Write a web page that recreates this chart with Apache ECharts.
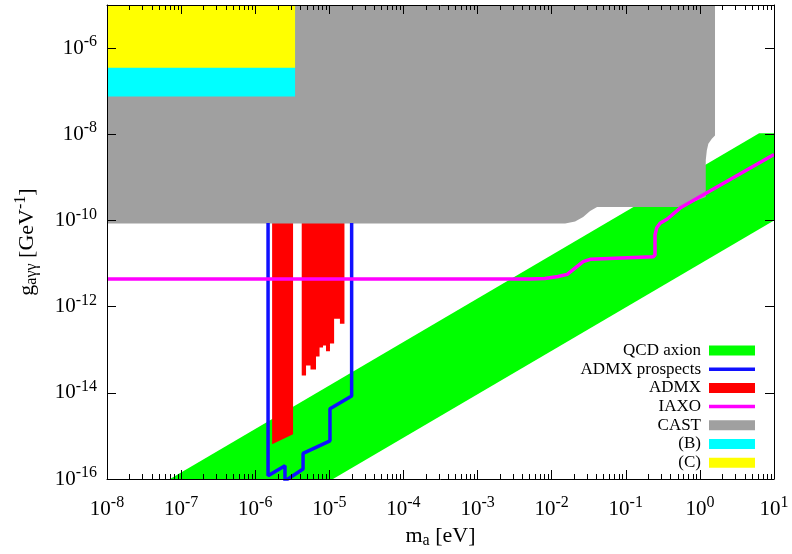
<!DOCTYPE html>
<html><head><meta charset="utf-8">
<script src="https://cdn.jsdelivr.net/npm/echarts@6/dist/echarts.min.js"></script>
<style>html,body{margin:0;padding:0;background:#fff}#c{width:792px;height:554px}</style>
</head><body><div id="c"></div>
<script>
// ---------- data (m_a [eV], g [GeV^-1]) ----------
const xTickExponents = [-8,-7,-6,-5,-4,-3,-2,-1,0,1];
const yTickExponents = [-16,-14,-12,-10,-8,-6];
const minorMultipliers = [2,3,4,5,6,7,8,9];

const qcdBand = [[7.08e-8,1e-16],[6.3,1.05e-8],[10,1.05e-8],[10,1e-10],[1.12e-5,1e-16]];
const castRegion = [[1e-8,1e-5],[1e-8,8.5e-11],[0.0152,8.5e-11],[0.0207,9.4e-11],[0.0266,1.2e-10],[0.033,1.65e-10],[0.041,2.05e-10],[0.54,2.05e-10],[1.2,3.5e-10],[1.2,2.5e-9],[1.24,4.2e-9],[1.30,6.05e-9],[1.45,7.9e-9],[1.6,9.4e-9],[1.6,1e-5]];
const regionB = [[1e-8,1e-5],[1e-8,7.5e-8],[3.45e-6,7.5e-8],[3.45e-6,1e-5]];
const regionC = [[1e-8,1e-5],[1e-8,3.5e-7],[3.45e-6,3.5e-7],[3.45e-6,1e-5]];
const admxLow = [[1.69e-6,1.2e-10],[1.69e-6,6.4e-16],[3.24e-6,1.1e-15],[3.24e-6,1.2e-10]];
const admxHigh = [[4.24e-6,1.2e-10],[4.24e-6,2.53e-14],[4.85e-6,2.53e-14],[4.85e-6,4.3e-14],[5.57e-6,4.3e-14],[5.57e-6,3.48e-14],[6.61e-6,3.48e-14],[6.61e-6,6.97e-14],[7.38e-6,6.97e-14],[7.38e-6,1.13e-13],[8.22e-6,1.13e-13],[8.22e-6,1.25e-13],[9.02e-6,1.25e-13],[9.02e-6,9.2e-14],[1.02e-5,9.2e-14],[1.02e-5,1.39e-13],[1.16e-5,1.39e-13],[1.16e-5,5.2e-13],[1.39e-5,5.2e-13],[1.39e-5,4.03e-13],[1.60e-5,4.03e-13],[1.60e-5,1.2e-10]];
const admxProspects = [[1.49e-6,8.7e-11],[1.49e-6,1.19e-16],[2.52e-6,2.03e-16],[2.52e-6,9e-17],[4.42e-6,1.70e-16],[4.42e-6,3.93e-16],[1.02e-5,7.67e-16],[1.02e-5,4.27e-15],[2.0e-5,8.4e-15],[2.0e-5,8.7e-11]];
const iaxo = [[1e-8,4.4e-12],[5.1e-3,4.4e-12],[8.1e-3,4.5e-12],[0.0122,5.0e-12],[0.0162,5.6e-12],[0.0266,1.11e-11],[0.033,1.25e-11],[0.233,1.43e-11],[0.248,1.58e-11],[0.248,4.6e-11],[0.262,6.8e-11],[0.29,8.6e-11],[0.363,1.08e-10],[0.54,1.94e-10],[10,3.4e-9]];

// ---------- helpers ----------
const FONT = 'Liberation Serif';
const X_MIN = 1e-8, X_MAX = 10, Y_MIN = 1e-16, Y_MAX = 1e-5;
function expLabel(v){ return '{b|10}{e|' + Math.round(Math.log10(v)) + '}'; }
const tickRich = {
  b:{fontFamily:FONT,fontSize:21,color:'#000'},
  e:{fontFamily:FONT,fontSize:16,color:'#000',padding:[0,0,12,0]}
};
function polySeries(name, pts, color){
  return {
    type:'custom', name:name, coordinateSystem:'cartesian2d', clip:true, silent:true,
    data:pts, itemStyle:{color:color},
    renderItem:function(params, api){
      if (params.dataIndex !== 0) return null;
      return {type:'polygon', shape:{points:pts.map(p=>api.coord(p))}, style:{fill:color, stroke:null}};
    }
  };
}
const minorTickData = [];
xTickExponents.slice(0,-1).forEach(e=>minorMultipliers.forEach(k=>minorTickData.push([k*Math.pow(10,e), Y_MIN])));

const LINE_ICON = 'path://M0,0 L46,0 L46,3.5 L0,3.5 Z';

const axisCommon = {
  axisLine:{show:true,onZero:false,lineStyle:{color:'#000',width:1}},
  axisTick:{show:true,inside:true,length:9,lineStyle:{color:'#000',width:1}},
  splitLine:{show:false}, z:10
};

const option = {
  animation:false,
  backgroundColor:'#fff',
  grid:{left:107,right:18,top:5,bottom:74,containLabel:false},
  xAxis:[
    Object.assign({}, axisCommon, {
      type:'log', logBase:10, min:X_MIN, max:X_MAX, splitNumber:9, position:'bottom',
      axisLabel:{interval:0, formatter:expLabel, rich:tickRich, margin:16},
      name:'{m|m}{s|a}{t| [eV]}', nameLocation:'middle', nameGap:44,
      nameTextStyle:{fontFamily:FONT,fontSize:22,color:'#000',rich:{
        m:{fontFamily:FONT,fontSize:22,color:'#000'},
        s:{fontFamily:FONT,fontSize:16,color:'#000',padding:[10,0,0,0]},
        t:{fontFamily:FONT,fontSize:22,color:'#000'}}}
    }),
    Object.assign({}, axisCommon, {
      type:'log', logBase:10, min:X_MIN, max:X_MAX, splitNumber:9, position:'top',
      axisLabel:{show:false}
    })
  ],
  yAxis:[
    Object.assign({}, axisCommon, {
      type:'log', logBase:100, min:Y_MIN, max:Y_MAX, splitNumber:6, position:'left',
      axisLabel:{formatter:expLabel, rich:tickRich, margin:10, showMaxLabel:false},
      name:'{g|g}{s|aγγ}{t| [GeV}{e|-1}{t|]}', nameLocation:'middle', nameGap:66, nameRotate:90,
      nameTextStyle:{fontFamily:FONT,fontSize:22,color:'#000',rich:{
        g:{fontFamily:FONT,fontSize:22,color:'#000'},
        s:{fontFamily:FONT,fontSize:16,color:'#000',padding:[10,0,0,0]},
        t:{fontFamily:FONT,fontSize:22,color:'#000'},
        e:{fontFamily:FONT,fontSize:16,color:'#000',padding:[0,0,12,0]}}}
    }),
    Object.assign({}, axisCommon, {
      type:'log', logBase:100, min:Y_MIN, max:Y_MAX, splitNumber:6, position:'right',
      axisLabel:{show:false}
    })
  ],
  legend:{
    orient:'vertical', right:32, top:337, align:'right', itemWidth:46, itemHeight:10, itemGap:1.7,
    selectedMode:false,
    textStyle:{fontFamily:FONT,fontSize:17,color:'#000',lineHeight:16,padding:[0,3,0,0]},
    data:[
      {name:'QCD axion',icon:'rect'},
      {name:'ADMX prospects',icon:LINE_ICON},
      {name:'ADMX',icon:'rect'},
      {name:'IAXO',icon:LINE_ICON},
      {name:'CAST',icon:'rect'},
      {name:'(B)',icon:'rect'},
      {name:'(C)',icon:'rect'}
    ]
  },
  series:[
    polySeries('QCD axion', qcdBand, '#00ff00'),
    polySeries('ADMX', admxLow, '#ff0000'),
    polySeries('ADMX', admxHigh, '#ff0000'),
    {type:'line', name:'ADMX prospects', data:admxProspects, symbol:'none', clip:true, silent:true,
     itemStyle:{color:'#1010ff'}, lineStyle:{color:'#1010ff',width:3.5}},
    polySeries('CAST', castRegion, '#a0a0a0'),
    polySeries('(B)', regionB, '#00ffff'),
    polySeries('(C)', regionC, '#ffff00'),
    {type:'line', name:'IAXO', data:iaxo, symbol:'none', clip:true, silent:true, z:5,
     itemStyle:{color:'#ff00ff'}, lineStyle:{color:'#ff00ff',width:3.5}},
    {type:'custom', name:'minorTicks', coordinateSystem:'cartesian2d', clip:false, silent:true, z:10,
     data:minorTickData,
     renderItem:function(params, api){
       const b = api.coord([api.value(0), Y_MIN]);
       const t = api.coord([api.value(0), Y_MAX]);
       const x = Math.round(b[0]) + 0.5;
       return {type:'group', children:[
         {type:'line', shape:{x1:x,y1:b[1],x2:x,y2:b[1]-5}, style:{stroke:'#000',lineWidth:1}},
         {type:'line', shape:{x1:x,y1:t[1],x2:x,y2:t[1]+5}, style:{stroke:'#000',lineWidth:1}}
       ]};
     }}
  ]
};
const chart = echarts.init(document.getElementById('c'), null, {renderer:'canvas'});
chart.setOption(option);
</script>
</body></html>
